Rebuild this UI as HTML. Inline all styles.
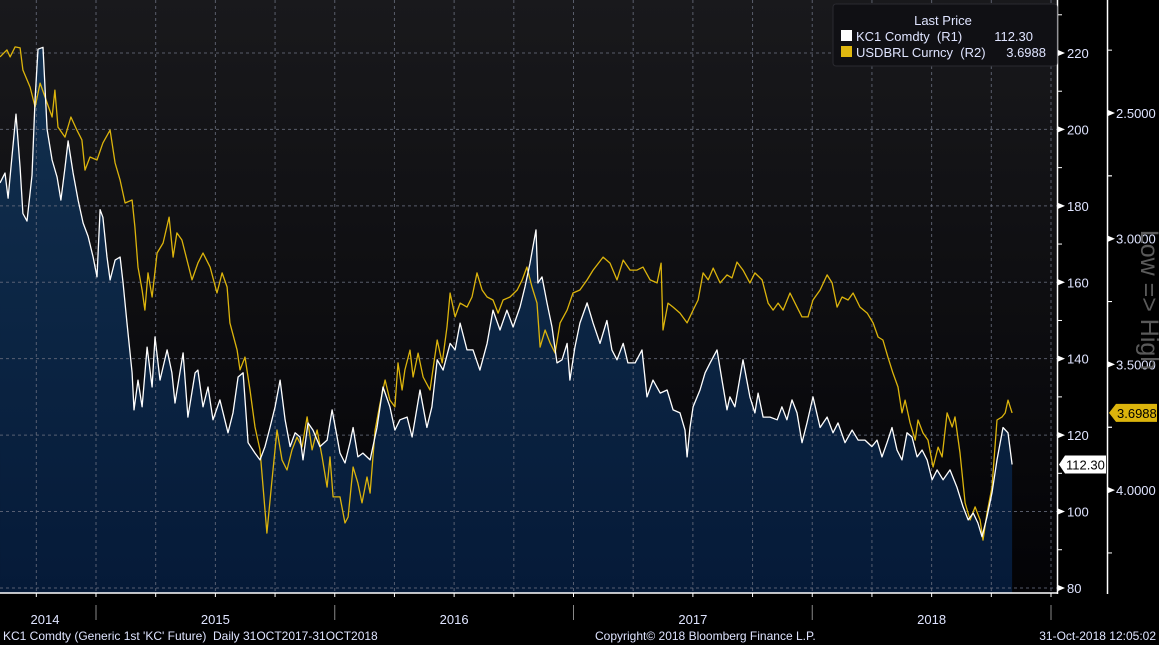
<!DOCTYPE html>
<html><head><meta charset="utf-8">
<style>
html,body{margin:0;padding:0;background:#000;}
svg{display:block;font-family:"Liberation Sans",sans-serif;}
</style></head>
<body>
<svg id="chart" width="1159" height="645" viewBox="0 0 1159 645" xmlns="http://www.w3.org/2000/svg">
<defs>
<linearGradient id="bg" x1="0" y1="0" x2="0" y2="1">
<stop offset="0" stop-color="#19191c"/><stop offset="1" stop-color="#030306"/>
</linearGradient>
<linearGradient id="area" x1="0" y1="0" x2="0" y2="1">
<stop offset="0" stop-color="#12304f"/><stop offset="1" stop-color="#051a38"/>
</linearGradient>
</defs>
<rect x="0" y="0" width="1159" height="645" fill="#000"/>
<rect x="0" y="0" width="1057" height="593" fill="url(#bg)"/>
<g id="area-g"></g>
<g id="grid-g"></g>
<g id="lines-g"></g>
<g id="axes-g"></g>
<g>
<rect x="833" y="4" width="224" height="62" rx="3" fill="#101014" stroke="#2a2a30"/>
<text x="943" y="25" fill="#dfe4ff" font-size="13" text-anchor="middle">Last Price</text>
<rect x="841" y="30" width="11" height="11" fill="#fff"/>
<text x="856" y="41" fill="#dfe4ff" font-size="13" xml:space="preserve">KC1 Comdty  (R1)</text>
<text x="1033" y="41" fill="#dfe4ff" font-size="13" text-anchor="end">112.30</text>
<rect x="841" y="46" width="11" height="11" fill="#e0b810"/>
<text x="856" y="57" fill="#dfe4ff" font-size="13" xml:space="preserve">USDBRL Curncy  (R2)</text>
<text x="1046" y="57" fill="#dfe4ff" font-size="13" text-anchor="end">3.6988</text>
</g>
<text transform="translate(1141,300) rotate(90)" fill="#5a5a5a" font-size="25" text-anchor="middle">Low =&gt; High</text>
<text x="3" y="640" fill="#dfe4ff" font-size="12" xml:space="preserve">KC1 Comdty (Generic 1st 'KC' Future)  Daily 31OCT2017-31OCT2018</text>
<text x="595" y="640" fill="#dfe4ff" font-size="12">Copyright© 2018 Bloomberg Finance L.P.</text>
<text x="1156" y="640" fill="#dfe4ff" font-size="12" text-anchor="end">31-Oct-2018 12:05:02</text>
</svg>
<script>
const kcDates=[2014.598,2014.619,2014.632,2014.648,2014.665,2014.682,2014.694,2014.711,2014.732,2014.745,2014.757,2014.778,2014.795,2014.816,2014.837,2014.853,2014.870,2014.883,2014.904,2014.925,2014.946,2014.967,2014.988,2015.004,2015.017,2015.029,2015.046,2015.059,2015.080,2015.101,2015.113,2015.130,2015.151,2015.159,2015.176,2015.193,2015.214,2015.235,2015.247,2015.268,2015.298,2015.318,2015.331,2015.365,2015.385,2015.415,2015.427,2015.448,2015.469,2015.490,2015.519,2015.553,2015.574,2015.595,2015.616,2015.637,2015.666,2015.687,2015.708,2015.729,2015.750,2015.771,2015.792,2015.813,2015.834,2015.855,2015.867,2015.888,2015.909,2015.938,2015.968,2015.989,2016.010,2016.022,2016.043,2016.064,2016.077,2016.097,2016.118,2016.148,2016.177,2016.202,2016.231,2016.252,2016.273,2016.303,2016.324,2016.357,2016.386,2016.407,2016.429,2016.454,2016.483,2016.504,2016.525,2016.554,2016.579,2016.608,2016.638,2016.663,2016.692,2016.721,2016.747,2016.776,2016.797,2016.818,2016.843,2016.851,2016.868,2016.889,2016.910,2016.931,2016.952,2016.973,2016.985,2017.006,2017.027,2017.057,2017.082,2017.111,2017.140,2017.161,2017.182,2017.208,2017.228,2017.258,2017.287,2017.308,2017.333,2017.363,2017.392,2017.417,2017.446,2017.467,2017.476,2017.488,2017.501,2017.530,2017.551,2017.572,2017.601,2017.622,2017.643,2017.655,2017.676,2017.710,2017.739,2017.760,2017.773,2017.794,2017.823,2017.853,2017.873,2017.894,2017.915,2017.936,2017.957,2017.978,2018.003,2018.033,2018.062,2018.087,2018.108,2018.137,2018.167,2018.192,2018.221,2018.250,2018.271,2018.292,2018.313,2018.334,2018.355,2018.376,2018.397,2018.418,2018.439,2018.460,2018.481,2018.502,2018.523,2018.548,2018.577,2018.606,2018.632,2018.653,2018.674,2018.694,2018.711,2018.732,2018.753,2018.774,2018.799,2018.820,2018.837];
const kcValues=[186,188.6,182,193,204,190,178,176,188,208,221,221.5,200,192,187.5,181.5,190,197,188.6,181.5,175.5,172,166.6,161.4,179,177,166.6,160.6,165.8,166.6,160,149.3,136.3,126.6,134.4,127.4,143,132.6,145.7,134.4,142.3,136.3,128.4,141.5,124.7,136.3,137,127.4,132.6,124,129.2,120.6,125.8,135.2,136.3,118,115.3,113.5,117,122,127.4,134.4,124,117,120.6,119.5,113.5,123.2,121.3,117,118.7,126.6,119.5,115.3,112.7,118,122,114.3,115.3,113.5,122,132.6,127.4,121.3,124,124.7,119.5,131.8,122,127.4,139.7,137,144,142.3,149.3,142.3,142.3,137,144,152.7,147.5,152.7,148.3,153.5,158.8,165,173.7,159.8,161.4,154.6,148.3,138.9,139.7,144,134.4,143,149.3,154.6,149.3,144,150,142.3,139.7,144,138.9,138.9,142.3,130,134.4,131,131.8,126.6,125.8,121.3,114.3,122,127.4,131.8,136.3,138.9,142.3,134.4,126.6,130,127.4,139.7,130,125.8,131,124.7,124.7,124,127.4,124,129.2,125.8,118,123.2,130,122,124.7,120.6,123.2,118,121.3,118.7,118.7,117,118.7,114.3,118,122,116.1,113.5,120.6,119.5,114.3,116.1,113.5,108.3,110.9,108.3,110.9,106.4,101.2,97.8,99.6,97,93.4,98.6,104.9,113.5,122,120.6,112.3];
const brlDates=[2014.598,2014.627,2014.640,2014.661,2014.682,2014.694,2014.724,2014.745,2014.766,2014.795,2014.816,2014.828,2014.841,2014.870,2014.895,2014.920,2014.941,2014.954,2014.975,2015.004,2015.029,2015.059,2015.080,2015.101,2015.122,2015.151,2015.163,2015.176,2015.193,2015.205,2015.218,2015.235,2015.256,2015.281,2015.306,2015.323,2015.339,2015.360,2015.381,2015.402,2015.427,2015.448,2015.478,2015.507,2015.528,2015.549,2015.561,2015.591,2015.603,2015.624,2015.645,2015.666,2015.687,2015.716,2015.737,2015.758,2015.779,2015.800,2015.821,2015.842,2015.863,2015.884,2015.905,2015.926,2015.947,2015.968,2015.980,2015.993,2016.022,2016.043,2016.056,2016.077,2016.097,2016.114,2016.135,2016.148,2016.169,2016.190,2016.211,2016.231,2016.252,2016.265,2016.282,2016.294,2016.315,2016.328,2016.349,2016.370,2016.399,2016.429,2016.450,2016.470,2016.483,2016.504,2016.525,2016.554,2016.575,2016.596,2016.617,2016.638,2016.663,2016.684,2016.705,2016.734,2016.764,2016.785,2016.805,2016.826,2016.847,2016.860,2016.881,2016.902,2016.923,2016.944,2016.973,2016.998,2017.027,2017.057,2017.082,2017.124,2017.153,2017.182,2017.208,2017.237,2017.266,2017.291,2017.321,2017.350,2017.367,2017.375,2017.396,2017.417,2017.446,2017.476,2017.501,2017.522,2017.543,2017.564,2017.585,2017.614,2017.643,2017.664,2017.685,2017.710,2017.739,2017.760,2017.790,2017.815,2017.836,2017.857,2017.878,2017.907,2017.936,2017.957,2017.982,2018.003,2018.033,2018.062,2018.083,2018.104,2018.125,2018.150,2018.171,2018.200,2018.230,2018.255,2018.276,2018.296,2018.317,2018.338,2018.359,2018.376,2018.389,2018.410,2018.431,2018.443,2018.464,2018.485,2018.506,2018.527,2018.544,2018.565,2018.586,2018.598,2018.619,2018.640,2018.661,2018.682,2018.703,2018.715,2018.732,2018.753,2018.774,2018.795,2018.808,2018.820,2018.837];
const brlValues=[2.277,2.249,2.277,2.237,2.241,2.329,2.397,2.476,2.381,2.46,2.516,2.409,2.556,2.596,2.516,2.568,2.607,2.727,2.675,2.687,2.619,2.568,2.699,2.767,2.858,2.846,2.953,3.113,3.204,3.284,3.136,3.232,3.057,3.017,2.914,3.073,2.977,3.005,3.085,3.164,3.097,3.057,3.113,3.216,3.136,3.192,3.335,3.443,3.522,3.471,3.602,3.749,3.840,4.171,3.960,3.761,3.880,3.920,3.840,3.789,3.829,3.709,3.840,3.761,3.868,3.988,3.868,4.027,4.027,4.131,4.107,3.908,3.972,4.051,3.948,4.012,3.761,3.654,3.562,3.642,3.669,3.494,3.602,3.522,3.443,3.550,3.455,3.550,3.602,3.403,3.494,3.351,3.216,3.311,3.256,3.272,3.232,3.136,3.204,3.232,3.244,3.296,3.244,3.232,3.204,3.164,3.113,3.192,3.256,3.431,3.363,3.415,3.455,3.335,3.284,3.216,3.204,3.164,3.125,3.073,3.097,3.164,3.085,3.125,3.125,3.113,3.164,3.176,3.097,3.363,3.256,3.272,3.296,3.335,3.284,3.244,3.136,3.164,3.117,3.176,3.144,3.156,3.093,3.125,3.176,3.136,3.164,3.256,3.284,3.256,3.284,3.216,3.272,3.311,3.311,3.244,3.204,3.144,3.176,3.272,3.232,3.244,3.216,3.272,3.296,3.335,3.391,3.403,3.471,3.534,3.590,3.693,3.642,3.733,3.801,3.721,3.773,3.801,3.908,3.829,3.868,3.693,3.749,3.709,3.852,4.051,4.119,4.067,4.119,4.199,4.091,3.988,3.721,3.709,3.693,3.642,3.693];
const yearLabels=["2014","2015","2016","2017","2018"];
const r1Ticks=[80,100,120,140,160,180,200,220];
const r2Ticks=["2.5000","3.0000","3.5000","4.0000"];
const lastKC="112.30";
const lastBRL="3.6988";

const NS="http://www.w3.org/2000/svg";
function X(t){return 96+(t-2015)*238.75;}
function Y1(v){return 53+(220-v)*3.821;}
function Y2(v){return 113+(v-2.5)*251.4;}
function mk(tag,attrs,parent){const e=document.createElementNS(NS,tag);for(const k in attrs)e.setAttribute(k,attrs[k]);parent.appendChild(e);return e;}
const gArea=document.getElementById('area-g'),gGrid=document.getElementById('grid-g'),gLines=document.getElementById('lines-g'),gAx=document.getElementById('axes-g');

let ad="M"+X(kcDates[0])+",593";
kcDates.forEach((d,i)=>{ad+=" L"+X(d).toFixed(1)+","+Y1(kcValues[i]).toFixed(1);});
ad+=" L"+X(kcDates[kcDates.length-1]).toFixed(1)+",593 Z";
const area=mk('path',{d:ad,fill:'url(#area)'},gArea);



for(let q=-2;q<=16;q++){const x=X(2015+q*0.25);if(x<0||x>1056)continue;
 const l=mk('line',{x1:x,y1:0,x2:x,y2:593,stroke:'#6a6f80','stroke-width':1,'stroke-dasharray':'3,3','stroke-opacity':0.8},gGrid);
 
 }
r1Ticks.forEach(v=>{const y=Y1(v);
 const l=mk('line',{x1:0,y1:y,x2:1057,y2:y,stroke:'#6a6f80','stroke-width':1,'stroke-dasharray':'3,3','stroke-opacity':0.8},gGrid);
 
 });

function linePath(ds,vs,f){return ds.map((d,i)=>(i?"L":"M")+X(d).toFixed(1)+","+f(vs[i]).toFixed(1)).join(" ");}
const brl=mk('path',{d:linePath(brlDates,brlValues,Y2),fill:'none',stroke:'#dcb40c','stroke-width':1.3,'stroke-linejoin':'round'},gLines);


const kc=mk('path',{d:linePath(kcDates,kcValues,Y1),fill:'none',stroke:'#ffffff','stroke-width':1.3,'stroke-linejoin':'round'},gLines);



mk('line',{x1:1057.5,y1:0,x2:1057.5,y2:594,stroke:'#fff','stroke-width':1.5},gAx);
mk('line',{x1:1107.5,y1:0,x2:1107.5,y2:594,stroke:'#fff','stroke-width':1.5},gAx);
mk('line',{x1:0,y1:593,x2:1058,y2:593,stroke:'#fff','stroke-width':1.5},gAx);
r1Ticks.forEach(v=>{const y=Y1(v);
 mk('path',{d:`M1058,${y-3} L1065,${y} L1058,${y+3} Z`,fill:'#fff'},gAx);
 const t=mk('text',{x:1067,y:y+5,fill:'#dfe4ff','font-size':13},gAx);t.textContent=v;
 
 
 mk('line',{x1:1057,y1:Y1(v+10),x2:1062,y2:Y1(v+10),stroke:'#fff'},gAx);});
r2Ticks.forEach(s=>{const v=parseFloat(s),y=Y2(v);
 mk('path',{d:`M1108,${y-3} L1115,${y} L1108,${y+3} Z`,fill:'#fff'},gAx);
 const t=mk('text',{x:1116,y:y+5,fill:'#dfe4ff','font-size':13},gAx);t.textContent=s;
 
 
 [v-0.25,v+0.25].forEach(m=>{const ym=Y2(m);if(ym>0&&ym<593)mk('line',{x1:1107,y1:ym,x2:1112,y2:ym,stroke:'#fff'},gAx);});});
for(let q=-2;q<=16;q++){const x=X(2015+q*0.25);if(x<0||x>1056)continue;mk('line',{x1:x,y1:593,x2:x,y2:597,stroke:'#fff'},gAx);}
for(let k=0;k<=4;k++){const x=X(2015+k);mk('line',{x1:x,y1:605,x2:x,y2:620,stroke:'#888'},gAx);}
yearLabels.forEach((s,i)=>{const y0=2014+i;const x=(X(y0)+X(y0+1))/2;const xc=i===0?45:x;
 const t=mk('text',{x:xc,y:624,fill:'#dfe4ff','font-size':13,'text-anchor':'middle'},gAx);t.textContent=s;
 
 });
const yk=Y1(kcValues[kcValues.length-1]);
mk('path',{d:`M1059,${yk} L1065,${yk-9} L1106,${yk-9} L1106,${yk+9} L1065,${yk+9} Z`,fill:'#fff'},gAx);
const tk=mk('text',{x:1066,y:yk+5,fill:'#000','font-size':13},gAx);tk.textContent=lastKC;


const yb=Y2(brlValues[brlValues.length-1]);
mk('path',{d:`M1109,${yb} L1116,${yb-9} L1157,${yb-9} L1157,${yb+9} L1116,${yb+9} Z`,fill:'#dcb40c'},gAx);
const tb=mk('text',{x:1117,y:yb+5,fill:'#000','font-size':13},gAx);tb.textContent=lastBRL;


</script>
</body></html>
